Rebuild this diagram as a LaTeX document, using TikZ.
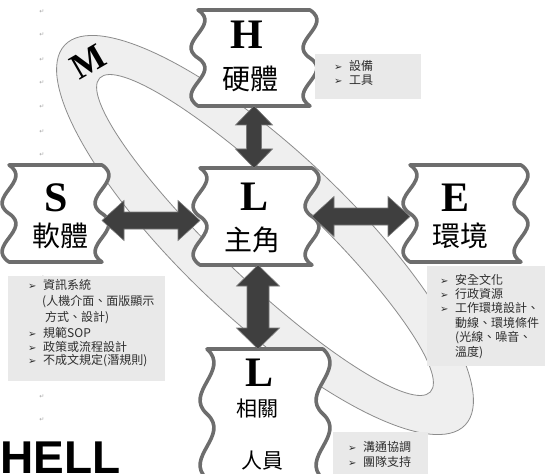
\documentclass[tikz,border=0pt]{standalone}
\usepackage{fontspec}
\setmainfont{Liberation Serif}
\newfontfamily\cjk{Noto Sans CJK TC}
\newfontfamily\dejavu{DejaVu Sans}
\newfontfamily\sansb{Liberation Sans}
\usetikzlibrary{calc}
\pgfdeclarelayer{ringlayer}
\pgfdeclarelayer{bglayer}
\pgfsetlayers{ringlayer,bglayer,main}
\definecolor{ringfill}{HTML}{EFEFEF}
\definecolor{ringline}{HTML}{8C8C8C}
\definecolor{waveline}{HTML}{6D6D6D}
\definecolor{arrowfill}{HTML}{3F3F3F}
\definecolor{arrowline}{HTML}{7A7A7A}
\definecolor{infofill}{HTML}{E9E9E9}
\definecolor{infotext}{HTML}{2E2E2E}
\tikzset{
  boxnode/.style={rectangle, inner sep=0pt, outer sep=0pt, draw=none},
  wave/.style={draw=waveline, line width=3.6pt, fill=white, line join=round},
  letter/.style={font=\bfseries\fontsize{42}{42}\selectfont, inner sep=0pt},
  bigcjk/.style={font=\cjk\fontsize{28}{28}\selectfont, inner sep=0pt},
  smallcjk/.style={font=\cjk\fontsize{21}{21}\selectfont, inner sep=0pt},
  blockarrow/.style={fill=arrowfill, draw=arrowline, line width=0.6pt, line join=miter},
  infobox/.style={rectangle, fill=infofill, draw=none, inner sep=0pt, anchor=north west},
  infot/.style={font=\cjk\fontsize{12}{14}\selectfont, text=infotext, inner sep=0pt, anchor=west},
  pmark/.style={font=\dejavu\fontsize{6}{6}\selectfont, text=black!35, inner sep=0pt},
  ringstroke/.style={draw=ringline, line width=0.8pt}
}
\newcommand\infobul{\makebox[15pt][l]{\dejavu\fontsize{10}{10}\selectfont ➢}}
\newcommand\wavebox[2]{%
  \begin{pgfonlayer}{bglayer}
  \filldraw[wave] (#1.north west) -- (#1.north east)
    .. controls +(24,#2/6) and +(-24,-#2/6) .. ++(0,#2/2)
    .. controls +(24,#2/6) and +(-24,-#2/6) .. ++(0,#2/2)
    -- (#1.south west)
    .. controls +(-24,-#2/6) and +(24,#2/6) .. ++(0,-#2/2)
    .. controls +(-24,-#2/6) and +(24,#2/6) .. ++(0,-#2/2)
    -- cycle;
  \end{pgfonlayer}}
\newcommand\varrow[5]{%
  \filldraw[blockarrow] let \p1=(#1), \p2=(#2) in
    (\x1,\y1) -- (\x1+#3,\y1-#5) -- (\x1+#4,\y1-#5) -- (\x1+#4,\y2+#5) -- (\x1+#3,\y2+#5) -- (\x1,\y2)
    -- (\x1-#3,\y2+#5) -- (\x1-#4,\y2+#5) -- (\x1-#4,\y1-#5) -- (\x1-#3,\y1-#5) -- cycle;}
\newcommand\harrow[5]{%
  \filldraw[blockarrow] let \p1=(#1), \p2=(#2) in
    (\x1,\y1) -- (\x1+#5,\y1+#3) -- (\x1+#5,\y1+#4) -- (\x2-#5,\y1+#4) -- (\x2-#5,\y1+#3) -- (\x2,\y1)
    -- (\x2-#5,\y1-#3) -- (\x2-#5,\y1-#4) -- (\x1+#5,\y1-#4) -- (\x1+#5,\y1-#3) -- cycle;}
\begin{document}
\begin{tikzpicture}[x=1pt,y=-1pt]
\useasboundingbox (0,0) rectangle (545,473);

% ring M
\begin{pgfonlayer}{ringlayer}
  \fill[white] (0,0) rectangle (545,473);
  \fill[ringfill, even odd rule, rotate around={-43.5:(265,235)}]
    (265,235) ellipse [x radius=276pt, y radius=84pt]
    (265,235) ellipse [x radius=228pt, y radius=46pt];
  \draw[ringstroke, rotate around={-43.5:(265,235)}] (265,235) ellipse [x radius=276pt, y radius=84pt];
  \draw[ringstroke, rotate around={-43.5:(265,235)}] (265,235) ellipse [x radius=228pt, y radius=46pt];
\end{pgfonlayer}
\node[font=\bfseries\fontsize{36}{36}\selectfont, rotate=30, inner sep=0pt] (M) at (88,62) {M};

% paragraph marks
\foreach \yy [count=\i] in {12,35,60,83,107,132,155,278,397,420}
  \node[pmark] (pm\i) at (42,\yy) {↵};

% boxes
\node[boxnode, minimum width=112pt, minimum height=96pt] (H) at (254,58) {};
\node[boxnode, minimum width=112pt, minimum height=97pt] (L) at (256,216.5) {};
\node[boxnode, minimum width=93pt, minimum height=97pt] (S) at (55.5,213.5) {};
\node[boxnode, minimum width=111pt, minimum height=97pt] (E) at (465.5,213.5) {};
\node[boxnode, minimum width=116pt, minimum height=130pt] (Lb) at (265,414) {};
\wavebox{H}{96}
\wavebox{L}{97}
\wavebox{S}{97}
\wavebox{E}{97}
\wavebox{Lb}{130}

% labels
\node[letter] (Hl) at (247,35) {H};
\node[bigcjk] (Ht) at (250,79) {硬體};
\node[letter] (Ll) at (255,197) {L};
\node[bigcjk] (Lt) at (252,240) {主角};
\node[letter] (Sl) at (56,198) {S};
\node[bigcjk] (St) at (60,236) {軟體};
\node[letter] (El) at (455,198) {E};
\node[bigcjk] (Et) at (460,236) {環境};
\node[letter] (Lbl) at (260,373) {L};
\node[smallcjk] (Lbt1) at (257,409) {相關};
\node[smallcjk] (Lbt2) at (262,461) {人員};

% arrows
\varrow{H.south}{L.north}{18.5pt}{7.5pt}{19pt}
\varrow{[xshift=2pt]L.south}{Lb.north}{21.5pt}{11pt}{21pt}
\harrow{[yshift=-7pt]S.east}{L.west}{20pt}{8.5pt}{22pt}
\harrow{L.east}{E.west}{20pt}{8.5pt}{22pt}

% info boxes
\node[infobox, minimum width=106pt, minimum height=45pt] (hinfo) at (315,54) {};
\node[infobox, minimum width=157pt, minimum height=105pt] (sinfo) at (8,276) {};
\node[infobox, minimum width=125pt, minimum height=100pt] (einfo) at (427,266) {};
\node[infobox, minimum width=95pt, minimum height=46pt] (binfo) at (333,432) {};

\node[infot] (h1) at (334,66) {\infobul 設備};
\node[infot] (h2) at (334,80) {\infobul 工具};

\node[infot] (s1) at (28,285) {\infobul 資訊系統};
\node[infot] (s2) at (42,302) {(人機介面、面版顯示};
\node[infot] (s3) at (45,318) {方式、設計)};
\node[infot] (s4) at (28,333) {\infobul 規範SOP};
\node[infot] (s5) at (28,347) {\infobul 政策或流程設計};
\node[infot] (s6) at (28,361) {\infobul 不成文規定(潛規則)};

\node[infot] (e1) at (440,280) {\infobul 安全文化};
\node[infot] (e2) at (440,294) {\infobul 行政資源};
\node[infot] (e3) at (440,308) {\infobul 工作環境設計、};
\node[infot] (e4) at (455,323) {動線、環境條件};
\node[infot] (e5) at (455,338) {(光線、噪音、};
\node[infot] (e6) at (455,353) {溫度)};

\node[infot] (b1) at (348,447) {\infobul 溝通協調};
\node[infot] (b2) at (348,462) {\infobul 團隊支持};

% SHELL title (cut)
\node[font=\sansb\bfseries\fontsize{46}{46}\selectfont, anchor=north west, inner sep=0pt] (hell) at (0,442) {HELL};
\end{tikzpicture}
\end{document}
